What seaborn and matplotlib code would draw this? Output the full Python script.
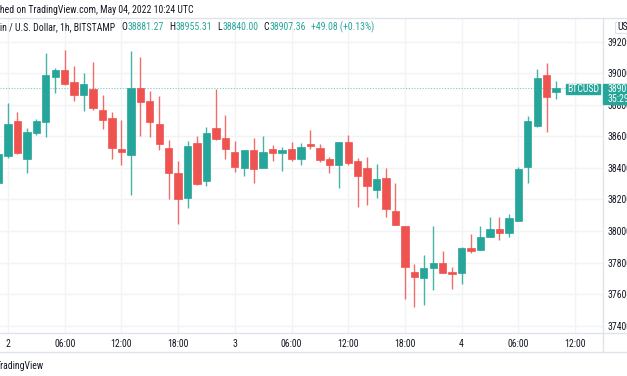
import numpy as np
import pandas as pd
import matplotlib
matplotlib.use("Agg")
import matplotlib.pyplot as plt
import seaborn as sns
from matplotlib import font_manager
from matplotlib.patches import Rectangle
from matplotlib.lines import Line2D

# hourly BTCUSD candles, hour 0 = May 2 00:00 UTC
hours = list(range(-1, 59))
opens = [38305, 38478, 38698, 38455, 38624, 38690, 38978, 39020, 38946, 38862,
         38900, 38768, 38716, 38522, 38483, 38908, 38827, 38679, 38529, 38366,
         38210, 38557, 38317, 38654, 38591, 38503, 38402, 38514, 38402, 38519,
         38497, 38519, 38459, 38551, 38525, 38455, 38419, 38567, 38446, 38398,
         38260, 38335, 38129, 38034, 37738, 37700, 37763, 37799, 37742, 37731,
         37892, 37877, 37964, 38011, 37989, 38063, 38408, 38667, 38992, 38881.27]
highs = [38520, 38815, 38757, 38652, 38709, 39132, 39037, 39149, 39048, 39003,
         39073, 38862, 38757, 38705, 39141, 39103, 38891, 38857, 38578, 38446,
         38573, 38605, 38658, 38900, 38736, 38573, 38514, 38589, 38605, 38544,
         38533, 38563, 38559, 38641, 38552, 38472, 38567, 38610, 38462, 38472,
         38425, 38398, 38307, 38034, 37789, 37848, 38032, 37875, 37770, 37900,
         37981, 38034, 38091, 38091, 38106, 38408, 38730, 39029, 39065, 38955.31]
lows = [38280, 38463, 38490, 38370, 38610, 38599, 38874, 38925, 38827, 38760,
        38768, 38646, 38459, 38419, 38229, 38603, 38599, 38514, 38201, 38044,
        38144, 38290, 38288, 38578, 38457, 38377, 38351, 38307, 38400, 38446,
        38381, 38444, 38417, 38521, 38436, 38366, 38275, 38419, 38154, 38165,
        38211, 38087, 38038, 37568, 37516, 37530, 37625, 37732, 37632, 37663,
        37862, 37877, 37964, 37943, 37964, 38063, 38307, 38659, 38631, 38840.00]
closes = [38489, 38679, 38495, 38629, 38696, 38990, 39020, 38933, 38862, 38933,
          38779, 38707, 38525, 38502, 38908, 38819, 38694, 38552, 38370, 38203,
          38542, 38298, 38624, 38586, 38519, 38404, 38514, 38394, 38500, 38497,
          38516, 38459, 38532, 38540, 38451, 38419, 38567, 38430, 38349, 38286,
          38328, 38138, 38038, 37773, 37706, 37767, 37799, 37732, 37725, 37892,
          37875, 37964, 38011, 37989, 38081, 38392, 38698, 38969, 38853, 38907.36]

tick_hours = [0, 6, 12, 18, 24, 30, 36, 42, 48, 54, 60]
tick_labels = ["2", "06:00", "12:00", "18:00", "3", "06:00", "12:00", "18:00", "4", "06:00", "12:00"]
price_ticks = [37400, 37600, 37800, 38000, 38200, 38400, 38600, 38800, 39000, 39200]

last_close = 38907.36
header = "Published on TradingView.com, May 04, 2022 10:24 UTC"
symbol_title = "Bitcoin / U.S. Dollar, 1h, BITSTAMP"
ohlc_names = ["O", "H", "L", "C"]
ohlc_values = ["38881.27", "38955.31", "38840.00", "38907.36"]
change_text = "+49.08 (+0.13%)"

df = pd.DataFrame({"hour": hours, "open": opens, "high": highs, "low": lows, "close": closes})

sns.set_theme(style="white")
installed = {f.name for f in font_manager.fontManager.ttflist}
narrow = None
for cand in ["Liberation Sans Narrow", "Roboto Condensed", "Open Sans Condensed"]:
    if cand in installed:
        narrow = cand
        break
plt.rcParams["font.family"] = [narrow if narrow else "Lato", "DejaVu Sans"]
FS = 7 if narrow else 6.3

UP = "#26a69a"
DOWN = "#ef5350"
DARK = "#131722"
LINE = "#e0e3eb"
GRID = "#f2f3f5"
W, H = 627, 376

fig = plt.figure(figsize=(6.27, 3.76), dpi=100)
fig.patch.set_facecolor("white")

def fx(x):
    return x / W

def fy(y):
    return 1 - y / H

ax = fig.add_axes([0, fy(333), fx(603), fy(18) - fy(333)])
ax.set_facecolor("white")

up = df["close"] >= df["open"]
colors = np.where(up, UP, DOWN)
ax.vlines(df["hour"], df["low"], df["high"], colors=colors, linewidth=1, alpha=0.85, zorder=2)
body_lo = df[["open", "close"]].min(axis=1)
body_h = (df["close"] - df["open"]).abs().clip(lower=8)
ax.bar(df["hour"], body_h, bottom=body_lo, width=0.78, color=colors, edgecolor=colors,
       linewidth=0.5, zorder=3)

# last price dotted line
ax.axhline(last_close, xmin=0, xmax=566 / 603, color=UP, linestyle=(0, (1, 1.5)),
           linewidth=0.8, alpha=0.6, zorder=1)

ax.set_xlim((0 - 8) / 9.45, (603 - 8) / 9.45)
ax.set_ylim(38000 - 102 * 6.349, 38000 + 213 * 6.349)

ax.set_xticks(tick_hours)
ax.set_xticklabels(tick_labels)
ax.set_yticks(price_ticks)
ax.set_yticklabels([f"{p:.2f}" for p in price_ticks])
ax.yaxis.tick_right()
ax.tick_params(axis="x", length=0, pad=4.5, labelsize=FS, labelcolor=DARK)
ax.tick_params(axis="y", length=0, pad=3.5, labelsize=FS, labelcolor=DARK)
ax.grid(True, color=GRID, linewidth=1)
ax.set_axisbelow(True)
for s in ax.spines.values():
    s.set_visible(False)

# frame lines of the TradingView panes
for y in (18, 333, 352):
    fig.add_artist(Line2D([0, 1], [fy(y), fy(y)], color=LINE, linewidth=1))
fig.add_artist(Line2D([fx(603), fx(603)], [fy(18), fy(352)], color=LINE, linewidth=1))

renderer = fig.canvas.get_renderer()

def text_width(s, size):
    t = fig.text(0, 0, s, fontsize=size)
    w = t.get_window_extent(renderer).width
    t.remove()
    return w

# header line, cut at the left edge
fig.text(fx(-text_width("Publis", FS)), fy(10), header, fontsize=FS, color=DARK,
         va="center", ha="left")

# legend line, title cut at the left edge, then O H L C values
x = -text_width("Bitco", FS)
t = fig.text(fx(x), fy(27), symbol_title, fontsize=FS, color=DARK, va="center", ha="left")
x += t.get_window_extent(renderer).width + 6
for n, v in zip(ohlc_names, ohlc_values):
    t = fig.text(fx(x), fy(27), n, fontsize=FS, color=DARK, va="center", ha="left")
    x += t.get_window_extent(renderer).width + 0.5
    t = fig.text(fx(x), fy(27), v, fontsize=FS, color=UP, va="center", ha="left")
    x += t.get_window_extent(renderer).width + 5
fig.text(fx(x), fy(27), change_text, fontsize=FS, color=UP, va="center", ha="left")

# bottom watermark, first letter cut
fig.text(fx(-text_width("T", FS) * 0.9), fy(366), "TradingView", fontsize=FS, color=DARK,
         va="center", ha="left")

# currency box
fig.add_artist(Rectangle((fx(615), fy(33)), fx(14), fy(22) - fy(33), transform=fig.transFigure,
                         facecolor="white", edgecolor=LINE, linewidth=0.8))
fig.text(fx(617), fy(27.5), "USD", fontsize=FS, color=DARK, va="center", ha="left")

# symbol label and last price box
fig.add_artist(Rectangle((fx(566), fy(94)), fx(34), fy(84) - fy(94), transform=fig.transFigure,
                         facecolor=UP, edgecolor=UP, zorder=5))
fig.text(fx(583), fy(89), "BTCUSD", fontsize=FS, color="white", va="center", ha="center", zorder=6)
fig.add_artist(Rectangle((fx(603), fy(104)), fx(30), fy(84) - fy(104), transform=fig.transFigure,
                         facecolor=UP, edgecolor=UP, zorder=5))
fig.text(fx(607.5), fy(89), f"{last_close:.2f}", fontsize=FS, color="white", va="center", ha="left", zorder=6)
fig.text(fx(607.5), fy(98.5), "35:29", fontsize=FS, color="white", va="center", ha="left", zorder=6)

fig.savefig("out.png", dpi=100, facecolor="white")
